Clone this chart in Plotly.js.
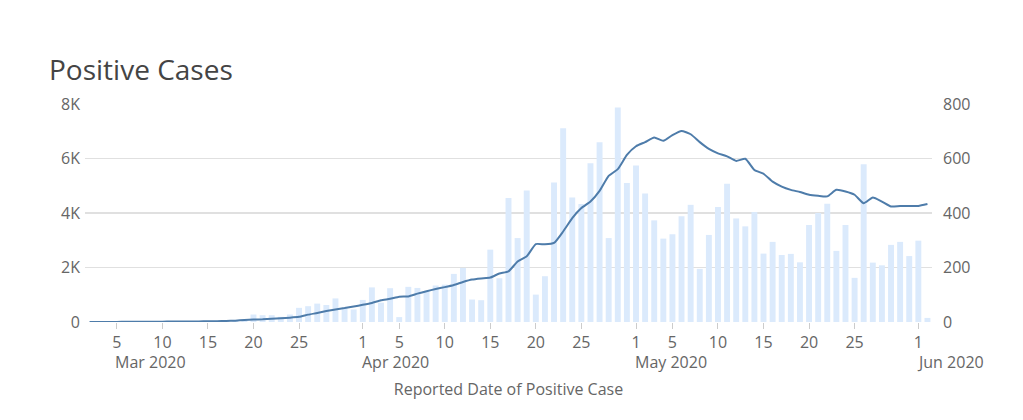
<!DOCTYPE html>
<html>
<head>
<meta charset="utf-8">
<script src="https://cdn.plot.ly/plotly-3.0.1.min.js"></script>
<style>html,body{margin:0;padding:0;background:#fff;}#chart{width:1023px;height:420px;}</style>
</head>
<body>
<div id="chart"></div>
<script>
// Categories: consecutive reported dates, 2020-03-02 .. 2020-06-02
const startDate = '2020-03-02';
const dayCount = 93;

// Daily positive cases (left axis)
const dailyCases = [
  0, 2, 1, 3, 5, 2, 6, 8, 10, 12, 15, 20, 18, 25, 30, 40, 50, 60,
  275, 250, 250, 190, 275, 520, 580, 675, 625, 865, 520, 460,
  810, 1270, 710, 1240, 180, 1290, 1250, 1130, 1340, 1370, 1765, 1985, 825, 800, 2655,
  1605, 4550, 3080, 4830, 1005, 1680, 5120, 7110, 4570, 4330, 5830, 6600, 3080, 7870, 5100,
  5745, 4720, 3730, 3060, 3220, 3880, 4300, 1950, 3195, 4220, 5070, 3800, 3510, 4035, 2510,
  2940, 2460, 2500, 2190, 3560, 4000, 4340, 2610, 3560, 1620, 5790, 2180, 2080, 2830, 2940, 2420,
  2985, 150
];

// Line series (right axis)
const trendValues = [
  0, 0, 0, 0, 1, 1, 1, 1, 1, 2, 2, 2, 2, 3, 3, 4, 5, 7,
  9, 10, 12, 14, 16, 19, 27, 33, 40, 46, 51, 57,
  63, 70, 80, 85, 93, 94, 104, 113, 121, 128, 136, 147, 156, 160, 163,
  178, 186, 222, 241, 286, 285, 290, 332, 381, 418, 442, 481, 536, 561, 613,
  645, 660, 677, 665, 686, 701, 689, 660, 635, 619, 608, 591, 599, 558, 544,
  515, 497, 485, 477, 467, 463, 461, 485, 479, 467, 436, 457, 442, 424, 426, 426,
  426, 433
];

// Tick labels
const xTickVals = ['2020-03-05','2020-03-10','2020-03-15','2020-03-20','2020-03-25',
  '2020-04-01','2020-04-05','2020-04-10','2020-04-15','2020-04-20','2020-04-25',
  '2020-05-01','2020-05-05','2020-05-10','2020-05-15','2020-05-20','2020-05-25','2020-06-01'];
const xTickText = ['5','10','15','20','25','1','5','10','15','20','25','1','5','10','15','20','25','1'];
const monthLabelDates = ['2020-03-05','2020-04-01','2020-05-01','2020-06-01'];
const monthLabels = ['Mar 2020','Apr 2020','May 2020','Jun 2020'];
const monthLabelShift = [-4, -3, -3, -3];
const yLeftTickVals = [0, 2000, 4000, 6000, 8000];
const yLeftTickText = ['0', '2K', '4K', '6K', '8K'];
const yRightTickVals = [0, 200, 400, 600, 800];
const yRightTickText = ['0', '200', '400', '600', '800'];

const dates = [];
{
  const d0 = new Date(startDate + 'T00:00:00Z');
  for (let i = 0; i < dayCount; i++) {
    const d = new Date(d0.getTime() + i * 86400000);
    dates.push(d.toISOString().slice(0, 10));
  }
}

const FONT = '"Open Sans", sans-serif';
const tickColor = '#666';

const traces = [
  {
    type: 'bar', x: dates, y: dailyCases, yaxis: 'y',
    marker: {color: 'rgb(219,234,252)'}, hoverinfo: 'x+y', name: 'Cases'
  },
  {
    type: 'scatter', mode: 'lines', x: dates, y: trendValues, yaxis: 'y2',
    line: {color: 'rgb(78,124,170)', width: 2, shape: 'spline', smoothing: 0.5},
    name: 'Trend'
  }
];

const annotations = monthLabels.map((t, i) => ({
  text: t, x: monthLabelDates[i], xref: 'x', y: 0, yref: 'paper',
  xanchor: 'left', yanchor: 'middle', yshift: -40, xshift: monthLabelShift[i],
  showarrow: false, font: {family: FONT, size: 16, color: tickColor}
}));

const layout = {
  width: 1023, height: 420,
  margin: {l: 85, r: 91, t: 104, b: 98},
  paper_bgcolor: '#fff', plot_bgcolor: '#fff',
  font: {family: FONT, size: 16, color: tickColor},
  showlegend: false,
  bargap: 0.35,
  title: {
    text: 'Positive Cases', x: 49 / 1023, xref: 'container', xanchor: 'left',
    y: 1 - 70 / 420, yref: 'container', yanchor: 'middle',
    font: {family: FONT, size: 28, color: '#444'}
  },
  xaxis: {
    type: 'date',
    range: ['2020-03-01 12:00', '2020-06-02 12:00'],
    tickmode: 'array', tickvals: xTickVals, ticktext: xTickText,
    ticks: 'outside', ticklen: 6, tickcolor: '#ccc', tickwidth: 1,
    showgrid: false, zeroline: false, showline: false,
    tickfont: {family: FONT, size: 16, color: tickColor},
    title: {text: 'Reported Date of Positive Case', standoff: 31,
      font: {family: FONT, size: 16, color: tickColor}}
  },
  yaxis: {
    range: [0, 8000], tickmode: 'array', tickvals: yLeftTickVals, ticktext: yLeftTickText,
    showgrid: true, gridcolor: '#e0e0e0', gridwidth: 1.5, zeroline: false,
    tickfont: {family: FONT, size: 16, color: tickColor}, ticks: '', ticklabelstandoff: 4
  },
  yaxis2: {
    range: [0, 800], overlaying: 'y', side: 'right',
    tickmode: 'array', tickvals: yRightTickVals, ticktext: yRightTickText,
    showgrid: false, zeroline: false,
    tickfont: {family: FONT, size: 16, color: tickColor}, ticks: '', ticklabelstandoff: 10
  },
  annotations: annotations
};

Plotly.newPlot('chart', traces, layout, {displayModeBar: false, staticPlot: true});
</script>
</body>
</html>
